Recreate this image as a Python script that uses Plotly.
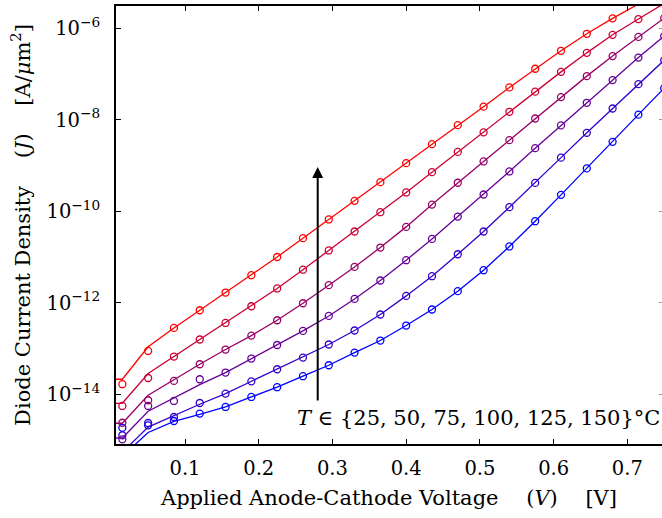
import plotly.graph_objects as go

# Applied anode-cathode voltage of the measured points [V]
voltage = [0.015, 0.05, 0.085, 0.12, 0.155, 0.19, 0.225, 0.26, 0.295, 0.33, 0.365,
           0.40, 0.435, 0.47, 0.505, 0.54, 0.575, 0.61, 0.645, 0.68, 0.715, 0.75]
# Voltage grid of the model curves [V]
voltage_model = [0.0] + voltage

temperatures = [25, 50, 75, 100, 125, 150]

# Measured diode current density [A/um^2]
meas_25 = [1.84e-15, 2.08e-15, 2.59e-15, 3.76e-15, 5.25e-15, 8.69e-15, 1.42e-14, 2.47e-14,
           4.29e-14, 8.13e-14, 1.49e-13, 3.17e-13, 7.10e-13, 1.79e-12, 5.14e-12, 1.70e-11,
           6.07e-11, 2.29e-10, 8.65e-10, 3.30e-9, 1.30e-8, 4.94e-8]
meas_50 = [1.26e-15, 2.34e-15, 3.17e-15, 6.41e-15, 1.03e-14, 1.91e-14, 3.51e-14, 6.32e-14,
           1.22e-13, 2.47e-13, 5.52e-13, 1.41e-12, 3.80e-12, 1.15e-11, 3.61e-11, 1.23e-10,
           4.18e-10, 1.49e-9, 5.20e-9, 1.77e-8, 6.04e-8, 2.02e-7]
meas_75 = [1.03e-15, 5.52e-15, 7.10e-15, 2.12e-14, 2.97e-14, 6.01e-14, 1.19e-13, 2.42e-13,
           5.14e-13, 1.21e-12, 3.06e-12, 8.51e-12, 2.49e-11, 7.66e-11, 2.33e-10, 7.43e-10,
           2.40e-9, 7.55e-9, 2.36e-8, 7.40e-8, 2.30e-7, 6.79e-7]
meas_100 = [2.37e-15, 7.36e-15, 1.95e-14, 4.51e-14, 9.46e-14, 1.91e-13, 4.14e-13, 9.75e-13,
            2.42e-12, 6.07e-12, 1.61e-11, 4.56e-11, 1.40e-10, 4.21e-10, 1.23e-9, 3.60e-9,
            1.07e-8, 3.14e-8, 9.04e-8, 2.48e-7, 6.52e-7, 1.68e-6]
meas_125 = [5.52e-15, 2.26e-14, 6.65e-14, 1.57e-13, 3.61e-13, 8.37e-13, 2.05e-12, 5.27e-12,
            1.39e-11, 3.61e-11, 9.55e-11, 2.58e-10, 7.18e-10, 1.99e-9, 5.32e-9, 1.50e-8,
            4.14e-8, 1.12e-7, 2.92e-7, 7.24e-7, 1.60e-6, None]
meas_150 = [1.65e-14, 8.81e-14, 2.81e-13, 6.85e-13, 1.67e-12, 4.00e-12, 1.00e-11, 2.58e-11,
            6.62e-11, 1.69e-10, 4.34e-10, 1.13e-9, 2.94e-9, 7.66e-9, 1.94e-8, 5.12e-8,
            1.31e-7, 3.24e-7, 7.62e-7, 1.66e-6, None, None]

# Model diode current density [A/um^2]
model_25 = [4.38e-16, 4.38e-16, 1.45e-15, 2.55e-15, 3.63e-15, 5.25e-15, 8.69e-15, 1.42e-14,
            2.47e-14, 4.29e-14, 8.13e-14, 1.49e-13, 3.17e-13, 7.10e-13, 1.79e-12, 5.14e-12,
            1.70e-11, 6.07e-11, 2.29e-10, 8.65e-10, 3.30e-9, 1.30e-8, 4.94e-8]
model_50 = [5.36e-16, 5.36e-16, 1.91e-15, 3.45e-15, 6.01e-15, 1.03e-14, 1.91e-14, 3.51e-14,
            6.32e-14, 1.22e-13, 2.47e-13, 5.52e-13, 1.41e-12, 3.80e-12, 1.15e-11, 3.61e-11,
            1.23e-10, 4.18e-10, 1.49e-9, 5.20e-9, 1.77e-8, 6.04e-8, 2.02e-7]
model_75 = [1.10e-15, 1.10e-15, 4.23e-15, 8.13e-15, 1.62e-14, 2.97e-14, 6.01e-14, 1.19e-13,
            2.42e-13, 5.14e-13, 1.21e-12, 3.06e-12, 8.51e-12, 2.49e-11, 7.66e-11, 2.33e-10,
            7.43e-10, 2.40e-9, 7.55e-9, 2.36e-8, 7.40e-8, 2.30e-7, 6.79e-7]
model_100 = [2.31e-15, 2.31e-15, 9.46e-15, 2.07e-14, 4.51e-14, 9.46e-14, 1.91e-13, 4.14e-13,
             9.75e-13, 2.42e-12, 6.07e-12, 1.61e-11, 4.56e-11, 1.40e-10, 4.21e-10, 1.23e-9,
             3.60e-9, 1.07e-8, 3.14e-8, 9.04e-8, 2.48e-7, 6.52e-7, 1.68e-6]
model_125 = [6.32e-15, 6.32e-15, 2.82e-14, 6.65e-14, 1.57e-13, 3.61e-13, 8.37e-13, 2.05e-12,
             5.27e-12, 1.39e-11, 3.61e-11, 9.55e-11, 2.58e-10, 7.18e-10, 1.99e-9, 5.32e-9,
             1.50e-8, 4.14e-8, 1.12e-7, 2.92e-7, 7.24e-7, 1.60e-6, 3.52e-6]
model_150 = [2.12e-14, 2.12e-14, 1.09e-13, 2.81e-13, 6.85e-13, 1.67e-12, 4.00e-12, 1.00e-11,
             2.58e-11, 6.62e-11, 1.69e-10, 4.34e-10, 1.13e-9, 2.94e-9, 7.66e-9, 1.94e-8,
             5.12e-8, 1.31e-7, 3.24e-7, 7.62e-7, 1.66e-6, 3.40e-6, 7.20e-6]

measured = [meas_25, meas_50, meas_75, meas_100, meas_125, meas_150]
modelled = [model_25, model_50, model_75, model_100, model_125, model_150]

# Colour runs from blue (coolest) to red (hottest)
colors = ["rgb(0,0,255)", "rgb(51,0,204)", "rgb(102,0,153)",
          "rgb(153,0,102)", "rgb(204,0,51)", "rgb(255,0,0)"]

y_tick_vals = [1e-14, 1e-12, 1e-10, 1e-8, 1e-6]
y_tick_text = ["10<sup>\u221214</sup>", "10<sup>\u221212</sup>", "10<sup>\u221210</sup>",
               "10<sup>\u22128</sup>", "10<sup>\u22126</sup>"]
x_tick_vals = [0.1, 0.2, 0.3, 0.4, 0.5, 0.6, 0.7]

FONT = "DejaVu Serif"
TICK_FS = 19.5
TEXT_FS = 21
GAP = "\u2003\u00a0"

fig = go.Figure()
for T, jm, jd, c in zip(temperatures, modelled, measured, colors):
    fig.add_trace(go.Scatter(x=voltage_model, y=jm, mode="lines",
                             line=dict(color=c, width=1.3),
                             name=f"{T} model", showlegend=False))
    fig.add_trace(go.Scatter(x=voltage, y=jd, mode="markers",
                             marker=dict(symbol="circle-open", size=7, color=c,
                                         line=dict(color=c, width=1.3)),
                             name=f"{T} measured", showlegend=False))

# Invisible trace so the right-hand tick axis is drawn
fig.add_trace(go.Scatter(x=[None], y=[None], yaxis="y2", showlegend=False))

fig.add_annotation(x=0.28, y=-9.03, ax=0.28, ay=-14.17, xref="x", yref="y",
                   axref="x", ayref="y", showarrow=True, arrowhead=2,
                   arrowsize=1.1, arrowwidth=2, arrowcolor="black", text="")
fig.add_annotation(x=1.0, y=-14.53, xref="paper", yref="y", xanchor="right",
                   yanchor="middle", showarrow=False,
                   text="<i>T</i> \u2208 {25, 50, 75, 100, 125, 150}\u00b0C",
                   font=dict(family=FONT, size=TEXT_FS, color="black"))

fig.update_layout(
    width=662, height=518,
    margin=dict(l=116, r=0, t=6, b=74),
    paper_bgcolor="white", plot_bgcolor="white",
    font=dict(family=FONT, size=TICK_FS, color="black"),
    xaxis=dict(range=[0.0064, 0.747], tickvals=x_tick_vals,
               ticks="inside", ticklen=5, tickwidth=1.2, tickcolor="black",
               showline=True, linewidth=2, linecolor="black", mirror="ticks",
               showgrid=False, zeroline=False, ticklabelstandoff=6,
               title=dict(text="Applied Anode-Cathode Voltage" + GAP + "(<i>V</i>)" + GAP + "[V]",
                          font=dict(family=FONT, size=TEXT_FS), standoff=11)),
    yaxis=dict(type="log", range=[-15.09, -5.51], tickvals=y_tick_vals,
               ticktext=y_tick_text, ticks="inside", ticklen=5, tickwidth=1.2,
               tickcolor="black", showline=True, linewidth=2, linecolor="black",
               mirror=False, showgrid=False, zeroline=False, ticklabelstandoff=10,
               title=dict(text="Diode Current Density" + GAP + "(<i>J</i>)" + GAP
                          + "[A/<i>\u03bc</i>m<sup>2</sup>]",
                          font=dict(family=FONT, size=TEXT_FS), standoff=10)),
    yaxis2=dict(type="log", range=[-15.09, -5.51], overlaying="y", side="right",
                tickvals=y_tick_vals, showticklabels=False, ticks="inside",
                ticklen=3, tickwidth=1, tickcolor="#9a9a9a", showline=False,
                showgrid=False, zeroline=False),
)

fig.write_html("out.html")
